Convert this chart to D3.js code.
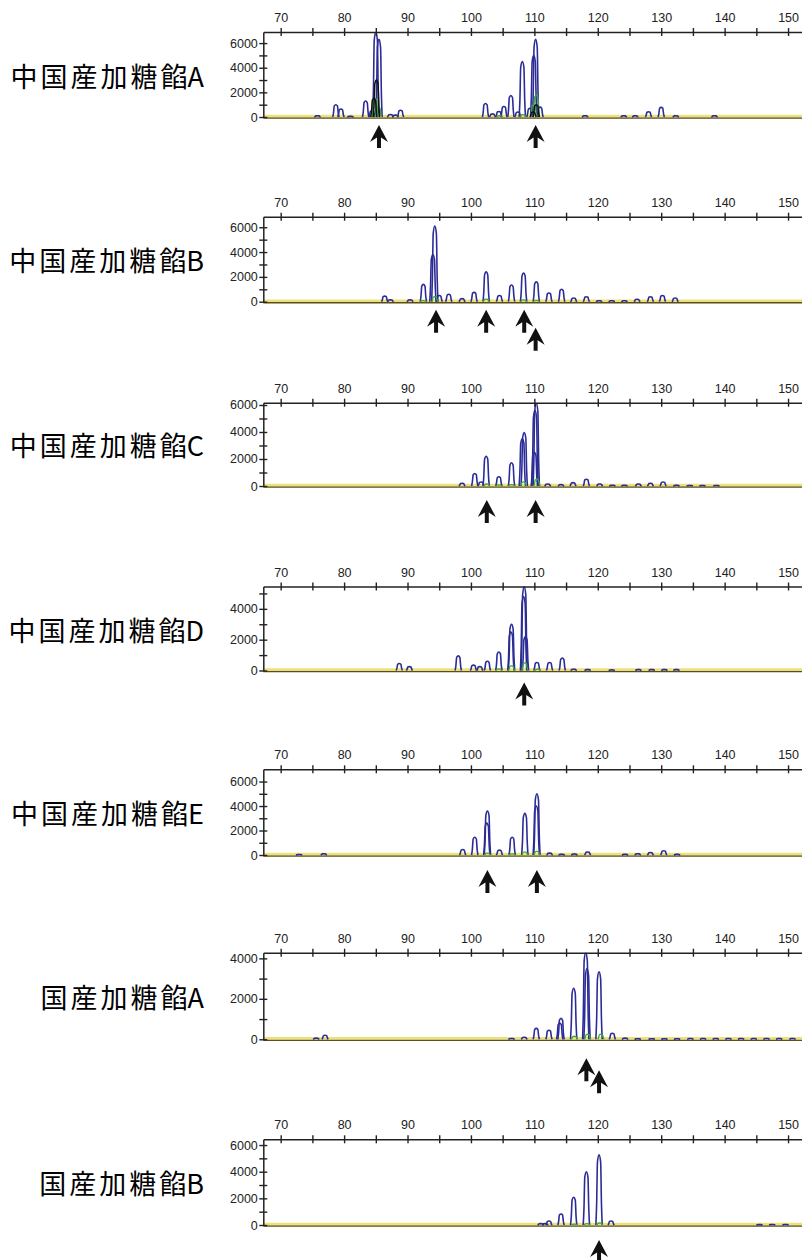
<!DOCTYPE html>
<html><head><meta charset="utf-8">
<script src="https://cdn.jsdelivr.net/npm/d3@7"></script>
<style>body{margin:0;background:#fff}svg{display:block}</style>
</head><body><svg id="c" width="802" height="1260"></svg>
<script>
// ---------- DATA ----------
const sampleNames = ["中国産加糖餡A","中国産加糖餡B","中国産加糖餡C","中国産加糖餡D","中国産加糖餡E","国産加糖餡A","国産加糖餡B"];
const yMax = [6900, 6850, 6170, 5450, 7000, 4280, 6430];
const xTickValues = [70,75,80,85,90,95,100,105,110,115,120,125,130,135,140,145,150];
const xTickLabels = [70,80,90,100,110,120,130,140,150];
const yTickLabels = [0,2000,4000,6000];

// peaks: [size (bp), height (RFU)]
const blueA = [[75.8,100],[78.7,1000],[79.5,650],[81,60],[83.4,1300],[84.4,500],[85.0,6900],[85.5,6300],[87.3,200],[88.1,150],[88.9,550],[102.3,1100],[103.4,250],[104.4,450],[105.2,850],[106.3,1750],[107.4,400],[108.1,4500],[109.3,700],[109.9,5000],[110.2,6300],[110.9,800],[118,100],[124.1,100],[125.9,100],[128,430],[130,780],[132.3,100],[138.4,100]];
const greenA = [[84.9,1500],[85.4,800],[104.5,100],[108.2,200],[109.9,1000],[110.3,1800]];
const blackA = [[84.7,1500],[85.1,3000],[109.8,400],[110.3,1000]];
const blueB = [[86.4,450],[87.3,150],[90.4,150],[92.5,1400],[94.0,3800],[94.3,6100],[95.0,500],[96.5,600],[98.6,250],[100.5,750],[102.4,2400],[104.5,500],[106.4,1350],[108.3,2300],[110.3,1600],[112.3,700],[114.3,1000],[116.2,300],[118.2,400],[120.2,80],[122.2,80],[124.2,80],[126.2,200],[128.3,400],[130.2,500],[132.2,300]];
const greenB = [[92.5,80],[94.3,400],[102.4,200],[108.3,150],[110.3,100]];
const blueC = [[98.6,200],[100.6,930],[101.6,300],[102.4,2200],[104.4,680],[106.4,1720],[108.1,3500],[108.4,3950],[110.0,2500],[110.1,5600],[110.3,6150],[112.1,150],[114.2,100],[116.1,250],[118.2,500],[120.3,150],[122.3,60],[124.2,60],[126.4,150],[128.3,200],[130.3,300],[132.4,60],[134.5,40],[136.5,40],[138.7,40]];
const greenC = [[102.5,150],[104.4,80],[106.4,100],[108.3,300],[110.4,500]];
const blueD = [[88.7,450],[90.3,250],[98.0,950],[100.4,350],[101.4,250],[102.6,600],[104.4,1200],[106.3,2500],[106.4,3000],[108.3,4800],[108.4,5450],[108.6,2200],[110.4,520],[112.4,520],[114.4,800],[116.2,80],[118.4,60],[122.2,40],[126.4,60],[128.5,60],[130.5,60],[132.4,60]];
const greenD = [[104.4,100],[106.4,300],[108.5,500],[110.5,80]];
const blueE = [[72.9,40],[76.8,100],[98.7,450],[100.6,1450],[102.5,2600],[102.6,3600],[104.5,400],[106.5,1450],[108.5,3400],[110.3,4000],[110.4,5000],[112.4,150],[114.3,60],[116.3,80],[118.4,250],[124.3,60],[126.3,100],[128.3,200],[130.4,350],[132.5,60]];
const greenE = [[102.6,150],[106.5,100],[108.5,250],[110.4,300]];
const blueF = [[75.6,60],[77,200],[106.4,40],[108.4,100],[110.3,540],[112.3,450],[114.0,800],[114.2,1040],[116.2,2520],[118.1,4300],[118.3,3500],[120.2,3340],[122.3,300],[124.3,60],[126.3,30],[128.5,30],[130.5,30],[132.5,30],[134.6,40],[136.6,40],[138.6,40],[140.6,40],[142.6,40],[144.6,40],[146.6,40],[148.6,40],[150.7,40]];
const greenF = [[116.3,150],[118.4,250],[120.5,250]];
const blueG = [[111.0,100],[111.7,100],[112.3,300],[114.2,830],[116.2,2080],[118.2,4000],[120.2,5260],[122.1,300],[145.5,30],[147.5,40],[149.6,40]];
const greenG = [[116.3,60],[118.3,100],[120.3,150]];
// arrows: [size, row]
const arrowsA = [[85.5,0],[110.2,0]];
const arrowsB = [[94.5,0],[102.4,0],[108.4,0],[110.2,1]];
const arrowsC = [[102.5,0],[110.2,0]];
const arrowsD = [[108.4,0]];
const arrowsE = [[102.6,0],[110.4,0]];
const arrowsF = [[118.2,0],[120.2,1]];
const arrowsG = [[120.2,0]];

const blueSets = [blueA, blueB, blueC, blueD, blueE, blueF, blueG];
const greenSets = [greenA, greenB, greenC, greenD, greenE, greenF, greenG];
const blackSets = [blackA, [], [], [], [], [], []];
const arrowSets = [arrowsA, arrowsB, arrowsC, arrowsD, arrowsE, arrowsF, arrowsG];

// ---------- LAYOUT ----------
const plotTop = [32, 216.7, 402.7, 586.5, 769.3, 952.7, 1139.3];
const plotBase = [117, 301.7, 486, 670.5, 855, 1039.3, 1225];
const arrowOffset = [[8],[8,26],[14],[12],[15],[19,31],[15]];
const left = 263.3, right = 802;

const svg = d3.select("#c");
const x = d3.scaleLinear().domain([67.26, 152.2]).range([left, right]);
const peakShape = [[-0.5,0],[-0.38,0.3],[-0.25,0.9],[0,1],[0.25,0.9],[0.38,0.3],[0.5,0]];

sampleNames.forEach((name, i) => {
  const g = svg.append("g");
  const y = d3.scaleLinear().domain([0, yMax[i]]).range([plotBase[i], plotTop[i]]);
  const cid = "clip" + i;
  svg.append("clipPath").attr("id", cid).append("rect")
    .attr("x", left).attr("y", plotTop[i]).attr("width", right - left).attr("height", plotBase[i] - plotTop[i] + 2);

  // label: CJK part spaced, trailing Latin letter tight
  const t = g.append("text").attr("x", 204).attr("y", (plotTop[i] + plotBase[i]) / 2)
    .attr("text-anchor", "end").attr("dominant-baseline", "central")
    .style("font-family", "'Noto Sans CJK JP', sans-serif").style("font-size", "27px").attr("fill", "#000");
  t.append("tspan").style("letter-spacing", "3px").text(name.slice(0, -2));
  t.append("tspan").text(name.slice(-2));

  // baseline
  g.append("line").attr("x1", left).attr("x2", right).attr("y1", plotBase[i] + 1).attr("y2", plotBase[i] + 1)
    .attr("stroke", "#5c4e1a").attr("stroke-width", 1.6);
  g.append("line").attr("x1", left).attr("x2", right).attr("y1", plotBase[i] - 1).attr("y2", plotBase[i] - 1)
    .attr("stroke", "#ece27a").attr("stroke-width", 2.6);

  const line = d3.line().x(d => x(d[0])).y(d => y(d[1])).curve(d3.curveMonotoneX);
  const peakPath = p => line(peakShape.map(s => [p[0] + s[0], s[1] * p[1]]));
  const tr = g.append("g").attr("clip-path", `url(#${cid})`);
  tr.selectAll("path.b").data(blueSets[i]).join("path").attr("class", "b")
    .attr("d", peakPath).attr("fill", "none").attr("stroke", "#2c2c96").attr("stroke-width", 1.6);
  tr.selectAll("path.g").data(greenSets[i]).join("path").attr("class", "g")
    .attr("d", peakPath).attr("fill", "none").attr("stroke", "#3aa83a").attr("stroke-width", 1.3);
  tr.selectAll("path.k").data(blackSets[i]).join("path").attr("class", "k")
    .attr("d", peakPath).attr("fill", "none").attr("stroke", "#111").attr("stroke-width", 1.5);

  // axes
  const ax = g.append("g").attr("transform", `translate(0,${plotTop[i]})`)
    .call(d3.axisTop(x).tickValues(xTickValues).tickFormat(d => xTickLabels.includes(d) ? d : "")
      .tickSizeInner(4).tickSizeOuter(0).tickPadding(6));
  ax.selectAll(".tick line").attr("y1", 4).attr("y2", -4);
  const ay = g.append("g").attr("transform", `translate(${left},0)`)
    .call(d3.axisLeft(y).tickValues(d3.range(0, yMax[i], 1000)).tickFormat(d => yTickLabels.includes(d) ? d : "")
      .tickSizeInner(4).tickSizeOuter(0).tickPadding(1.5));
  ay.selectAll(".tick line").attr("x1", -4).attr("x2", 4);
  [ax, ay].forEach(a => {
    a.select(".domain").attr("stroke", "#222").attr("stroke-width", 1.5);
    a.selectAll(".tick line").attr("stroke", "#222").attr("stroke-width", 1.4);
    a.selectAll("text").style("font-family", "'Liberation Sans', Arial, sans-serif").style("font-size", "12.5px").attr("fill", "#222");
  });

  // arrows
  g.selectAll("path.arrow").data(arrowSets[i]).join("path").attr("class", "arrow")
    .attr("transform", d => `translate(${x(d[0])},${plotBase[i] + arrowOffset[i][d[1]]})`)
    .attr("d", "M0,0 L9,17 L2,12.5 L2,23 L-2,23 L-2,12.5 L-9,17 Z")
    .attr("fill", "#111");
});
</script>
</body></html>
